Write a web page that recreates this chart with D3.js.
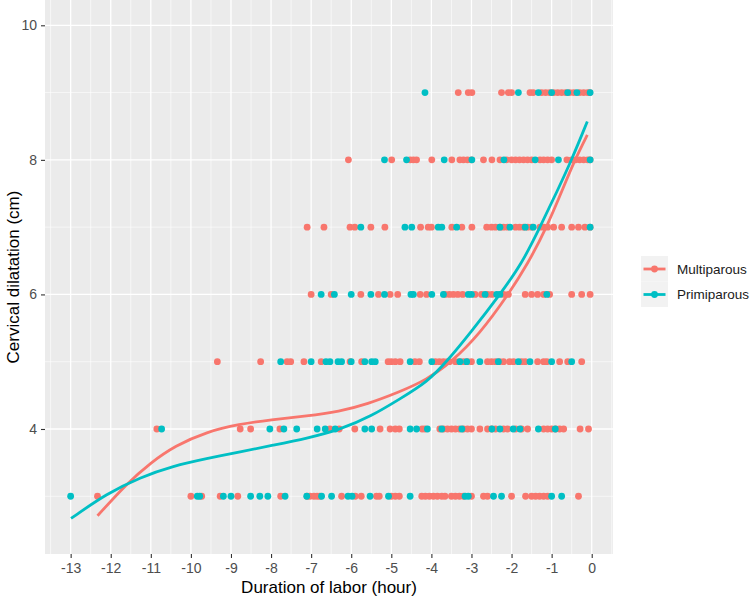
<!DOCTYPE html>
<html>
<head>
<meta charset="utf-8">
<script src="https://cdn.jsdelivr.net/npm/d3@7"></script>
<style>
  body { margin: 0; background: #fff; }
  svg { display: block; font-family: 'Liberation Sans', Arial, sans-serif; }
</style>
</head>
<body>
<svg id="chart"></svg>
<script>
// duration of labor (hours before delivery) per dilatation level
const multiRow3 = [-12.33, -10.0, -9.73, -9.27, -8.83, -7.76, -7.1, -7.03, -6.93, -6.85, -6.78, -6.24, -5.9, -5.75, -5.37, -5.3, -5.0, -4.9, -4.8, -4.24, -4.15, -4.05, -3.95, -3.85, -3.74, -3.66, -3.5, -3.4, -3.3, -3.2, -3.0, -2.7, -2.6, -2.0, -1.65, -1.5, -1.4, -1.3, -1.2, -1.1, -0.33]
const multiRow4 = [-10.85, -8.77, -8.51, -7.78, -6.53, -6.3, -5.91, -5.28, -5.03, -4.9, -4.8, -4.23, -4.16, -3.79, -3.7, -3.6, -3.5, -3.4, -3.3, -3.2, -3.1, -3.0, -2.79, -2.6, -2.5, -2.4, -2.2, -2.1, -1.9, -1.75, -1.6, -1.2, -1.1, -1.0, -0.9, -0.8, -0.7, -0.29, -0.08]
const multiRow5 = [-9.34, -8.26, -7.6, -7.51, -7.18, -6.75, -6.03, -5.74, -5.08, -5.0, -4.9, -4.78, -4.41, -4.3, -3.9, -3.8, -3.7, -3.6, -3.55, -3.4, -3.3, -3.2, -3.1, -3.0, -2.6, -2.5, -2.4, -2.3, -2.2, -2.05, -1.95, -1.75, -1.66, -1.35, -1.2, -1.12, -0.8, -0.6, -0.25]
const multiRow6 = [-7.0, -6.5, -5.76, -5.32, -5.03, -4.84, -4.28, -4.12, -3.66, -3.55, -3.45, -3.34, -3.22, -2.91, -2.75, -2.6, -2.49, -2.2, -2.08, -1.66, -1.5, -1.35, -1.2, -1.05, -0.5, -0.25, -0.04]
const multiRow7 = [-7.1, -6.68, -6.03, -5.91, -5.51, -5.16, -4.27, -4.08, -4.0, -3.49, -3.24, -2.99, -2.62, -2.5, -2.4, -2.29, -2.2, -2.1, -1.9, -1.8, -1.7, -1.6, -1.5, -1.29, -1.2, -1.1, -0.95, -0.75, -0.5, -0.33, -0.17, -0.04]
const multiRow8 = [-6.07, -4.99, -4.53, -4.45, -4.37, -3.99, -3.49, -3.29, -3.2, -3.1, -3.0, -2.7, -2.49, -2.29, -2.12, -2.0, -1.9, -1.8, -1.7, -1.6, -1.5, -1.29, -1.2, -1.1, -1.0, -0.62, -0.5, -0.4, -0.3, -0.2, -0.1, -0.04]
const multiRow9 = [-3.33, -3.08, -2.99, -2.25, -2.08, -2.0, -1.54, -1.46, -1.25, -1.15, -1.05, -0.95, -0.85, -0.75, -0.65, -0.55, -0.45, -0.3, -0.2, -0.1, -0.05]

const primiRow3 = [-13.0, -9.84, -9.78, -9.19, -9.0, -8.51, -8.28, -8.08, -7.65, -7.11, -6.74, -6.49, -6.08, -5.98, -5.53, -5.07, -4.53, -3.16, -3.08, -2.45, -2.25, -1.0, -0.75]
const primiRow4 = [-10.73, -8.03, -7.68, -7.36, -6.85, -6.65, -6.4, -5.66, -5.49, -4.53, -4.37, -4.1, -3.74, -3.24, -2.49, -2.29, -1.96, -1.79, -1.33, -0.91]
const primiRow5 = [-7.76, -7.0, -6.63, -6.53, -6.33, -6.24, -6.0, -5.66, -5.49, -5.4, -4.53, -3.99, -3.29, -3.12, -2.79, -2.33, -1.83, -1.54, -1.0, -0.5]
const primiRow6 = [-6.75, -6.42, -6.0, -5.51, -5.17, -4.51, -4.45, -3.99, -3.7, -3.08, -3.0, -2.66, -2.37, -2.29, -1.12]
const primiRow7 = [-5.76, -4.66, -4.49, -3.83, -3.74, -3.37, -2.29, -2.04, -1.66, -1.46, -0.04]
const primiRow8 = [-5.17, -4.62, -3.68, -2.99, -2.19, -1.41, -0.83, -0.04]
const primiRow9 = [-4.16, -1.83, -1.33, -1.0, -0.6, -0.37, -0.04]

// smoothed fit
const multiCurveX = [-12.33, -11.6, -11.0, -10.4, -9.6, -8.8, -8.0, -7.1, -6.3, -5.6, -4.8, -4.12, -3.49, -2.8, -2.08, -1.6, -1.12, -0.7, -0.42, -0.11]
const multiCurveY = [2.71, 3.19, 3.5, 3.75, 3.96, 4.07, 4.14, 4.19, 4.26, 4.37, 4.55, 4.73, 5.0, 5.41, 6.0, 6.45, 7.0, 7.6, 8.0, 8.37]
const primiCurveX = [-12.99, -12.1, -11.27, -10.44, -9.61, -8.77, -7.94, -7.11, -6.28, -5.5, -4.78, -4.1, -3.62, -3.0, -2.29, -1.75, -1.29, -0.85, -0.5, -0.11]
const primiCurveY = [2.67, 3.04, 3.28, 3.45, 3.56, 3.66, 3.76, 3.86, 3.99, 4.19, 4.45, 4.7, 5.0, 5.45, 6.0, 6.45, 7.0, 7.55, 8.0, 8.57]

const groups = ['Multiparous', 'Primiparous']
const colors = ['#F8766D', '#00BFC4']
const xTicks = [-13, -12, -11, -10, -9, -8, -7, -6, -5, -4, -3, -2, -1, 0]
const yTicks = [4, 6, 8, 10]
const yMinor = [3, 5, 7, 9]

const width = 750
const height = 598
const panel = { left: 45, right: 613, top: 0, bottom: 554 }

const svg = d3.select('#chart').attr('width', width).attr('height', height)

const x = d3.scaleLinear().domain([-13.64, 0.531]).range([panel.left, panel.right])
const y = d3.scaleLinear().domain([2.142, 10.376]).range([panel.bottom, panel.top])
const color = d3.scaleOrdinal().domain(groups).range(colors)

const rows = (group, list) =>
  list.flatMap((vals, i) => vals.map((v) => ({ group, hours: v, cm: i + 3 })))

const points = rows('Multiparous', [multiRow3, multiRow4, multiRow5, multiRow6, multiRow7, multiRow8, multiRow9])
  .concat(rows('Primiparous', [primiRow3, primiRow4, primiRow5, primiRow6, primiRow7, primiRow8, primiRow9]))

const curves = [
  { group: 'Multiparous', pts: multiCurveX.map((v, i) => [v, multiCurveY[i]]) },
  { group: 'Primiparous', pts: primiCurveX.map((v, i) => [v, primiCurveY[i]]) }
]

// panel
svg.append('rect')
  .attr('x', panel.left).attr('y', panel.top)
  .attr('width', panel.right - panel.left).attr('height', panel.bottom - panel.top)
  .attr('fill', '#EBEBEB')

const xMinor = xTicks.map((d) => d - 0.5).concat([0.5])
const grid = svg.append('g').attr('stroke', '#fff')
grid.selectAll('.xmin').data(xMinor).join('line')
  .attr('x1', (d) => x(d)).attr('x2', (d) => x(d))
  .attr('y1', panel.top).attr('y2', panel.bottom).attr('stroke-width', 0.6)
grid.selectAll('.ymin').data(yMinor).join('line')
  .attr('y1', (d) => y(d)).attr('y2', (d) => y(d))
  .attr('x1', panel.left).attr('x2', panel.right).attr('stroke-width', 0.6)
grid.selectAll('.xmaj').data(xTicks).join('line')
  .attr('x1', (d) => x(d)).attr('x2', (d) => x(d))
  .attr('y1', panel.top).attr('y2', panel.bottom).attr('stroke-width', 1.3)
grid.selectAll('.ymaj').data(yTicks).join('line')
  .attr('y1', (d) => y(d)).attr('y2', (d) => y(d))
  .attr('x1', panel.left).attr('x2', panel.right).attr('stroke-width', 1.3)

// points
svg.append('g')
  .selectAll('circle')
  .data(points)
  .join('circle')
  .attr('cx', (d) => x(d.hours))
  .attr('cy', (d) => y(d.cm))
  .attr('r', 3.4)
  .attr('fill', (d) => color(d.group))

// fitted curves
const line = d3.line()
  .x((d) => x(d[0]))
  .y((d) => y(d[1]))
  .curve(d3.curveBasis)

svg.append('g')
  .selectAll('path')
  .data(curves)
  .join('path')
  .attr('d', (d) => line(d.pts))
  .attr('fill', 'none')
  .attr('stroke', (d) => color(d.group))
  .attr('stroke-width', 2.8)

// axes
const xAxis = svg.append('g')
  .attr('transform', `translate(0,${panel.bottom})`)
  .call(d3.axisBottom(x).tickValues(xTicks).tickSize(4).tickPadding(5).tickFormat(d3.format('d')))
const yAxis = svg.append('g')
  .attr('transform', `translate(${panel.left},0)`)
  .call(d3.axisLeft(y).tickValues(yTicks).tickSize(4).tickPadding(4).tickFormat(d3.format('d')))

for (const ax of [xAxis, yAxis]) {
  ax.select('.domain').remove()
  ax.selectAll('.tick line').attr('stroke', '#333').attr('stroke-width', 1.1)
  ax.selectAll('.tick text')
    .attr('fill', '#4D4D4D')
    .attr('font-size', 14)
    .attr('font-family', 'Liberation Sans, Arial, sans-serif')
}
xAxis.selectAll('.tick text').text((d) => (d < 0 ? '-' + Math.abs(d) : d))

svg.append('text')
  .attr('x', (panel.left + panel.right) / 2)
  .attr('y', 593)
  .attr('text-anchor', 'middle')
  .attr('font-size', 17)
  .attr('fill', '#000')
  .text('Duration of labor (hour)')

svg.append('text')
  .attr('transform', `translate(19,${(panel.top + panel.bottom) / 2}) rotate(-90)`)
  .attr('text-anchor', 'middle')
  .attr('font-size', 17)
  .attr('fill', '#000')
  .text('Cervical dilatation (cm)')

// legend
const legend = svg.append('g').attr('transform', 'translate(641,256)')
const key = legend.selectAll('g').data(groups).join('g')
  .attr('transform', (d, i) => `translate(0,${i * 25.5})`)
key.append('rect')
  .attr('width', 27).attr('height', 25.5)
  .attr('fill', '#F2F2F2')
key.append('line')
  .attr('x1', 2.5).attr('x2', 24.5)
  .attr('y1', 13).attr('y2', 13)
  .attr('stroke', (d) => color(d))
  .attr('stroke-width', 2.8)
key.append('circle')
  .attr('cx', 13.5).attr('cy', 13).attr('r', 3.4)
  .attr('fill', (d) => color(d))
key.append('text')
  .attr('x', 36).attr('y', 13).attr('dy', '0.35em')
  .attr('font-size', 13.5)
  .attr('fill', '#1A1A1A')
  .text((d) => d)
</script>
</body>
</html>
